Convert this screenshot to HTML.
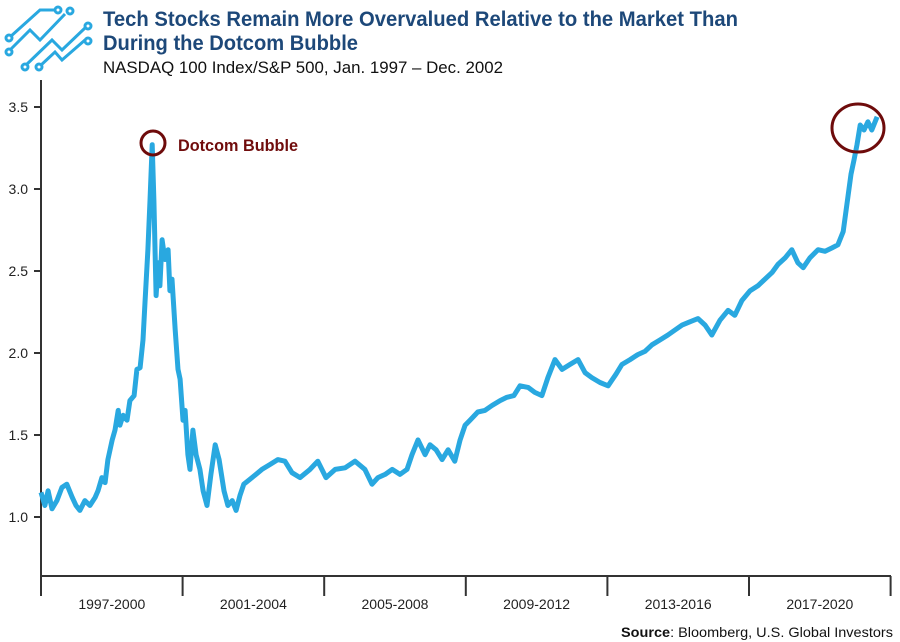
<!DOCTYPE html>
<html><head><meta charset="utf-8"><style>
body{margin:0;background:#fff;}
svg{display:block;font-family:"Liberation Sans",sans-serif;}
</style></head><body>
<svg id="chart" width="900" height="642" viewBox="0 0 900 642">
<g stroke="#29a8e0" stroke-width="3" fill="none">
<path d="M10 37 L40 10 L56 10"/><circle cx="58" cy="10" r="3" fill="#fff"/>
<path d="M10 50 L30 30 L40 40 L65 14"/><circle cx="70" cy="11" r="3" fill="#fff"/>
<circle cx="9" cy="38" r="3" fill="#fff"/><circle cx="9" cy="52" r="3" fill="#fff"/>
<path d="M25 66 L52 40 L62 50 L85 28"/><circle cx="88" cy="26" r="3" fill="#fff"/>
<path d="M40 66 L55 52 L62 60 L85 40"/><circle cx="88" cy="41" r="3" fill="#fff"/>
<circle cx="25" cy="67" r="3" fill="#fff"/><circle cx="39" cy="67" r="3" fill="#fff"/>
</g>
<text x="103" y="26" font-size="21" font-weight="bold" fill="#1d4879" textLength="635" lengthAdjust="spacingAndGlyphs">Tech Stocks Remain More Overvalued Relative to the Market Than</text>
<text x="103" y="50" font-size="21" font-weight="bold" fill="#1d4879" textLength="255" lengthAdjust="spacingAndGlyphs">During the Dotcom Bubble</text>
<text x="103" y="73" font-size="17" fill="#111" textLength="400" lengthAdjust="spacingAndGlyphs">NASDAQ 100 Index/S&amp;P 500, Jan. 1997 – Dec. 2002</text>
<g id="axes" stroke="#333" stroke-width="2"></g>
<g id="labels" font-size="14" fill="#222"></g>
<path id="line" fill="none" stroke="#29a8e0" stroke-width="5" stroke-linejoin="round"/>
<circle cx="153" cy="143" r="12" fill="none" stroke="#6e0b0b" stroke-width="3"/>
<text x="178" y="151" font-size="17" font-weight="bold" fill="#700c0c" textLength="120" lengthAdjust="spacingAndGlyphs">Dotcom Bubble</text>
<ellipse cx="858" cy="128" rx="26" ry="24" fill="none" stroke="#6e0b0b" stroke-width="3"/>
<text x="893" y="637" font-size="14" text-anchor="end" fill="#111" textLength="272" lengthAdjust="spacingAndGlyphs"><tspan font-weight="bold">Source</tspan>: Bloomberg, U.S. Global Investors</text>
</svg>
<script>
const years=[0,.11,.20,.31,.45,.59,.73,.88,.99,1.10,1.24,1.38,1.53,1.61,1.72,1.81,1.89,2.01,2.09,2.18,2.23,2.32,2.43,2.51,2.63,2.71,2.80,2.88,2.94,3.02,3.08,3.14,3.19,3.25,3.31,3.36,3.42,3.50,3.59,3.64,3.70,3.79,3.87,3.93,4.01,4.07,4.15,4.21,4.29,4.38,4.49,4.58,4.69,4.80,4.92,5.03,5.17,5.28,5.40,5.51,5.62,5.73,5.90,6.07,6.24,6.47,6.69,6.89,7.09,7.32,7.60,7.82,8.05,8.31,8.59,8.87,9.15,9.35,9.52,9.72,9.92,10.14,10.34,10.48,10.65,10.85,10.99,11.16,11.33,11.50,11.69,11.84,11.98,12.12,12.34,12.54,12.74,12.97,13.16,13.36,13.53,13.76,13.95,14.15,14.32,14.52,14.72,14.94,15.17,15.37,15.56,15.79,16.02,16.24,16.41,16.64,16.86,17.06,17.26,17.49,17.71,17.91,18.11,18.33,18.56,18.76,18.95,19.18,19.41,19.60,19.80,20.03,20.25,20.45,20.65,20.82,21.02,21.21,21.38,21.53,21.72,21.95,22.15,22.34,22.51,22.66,22.80,22.88,22.97,23.05,23.14,23.25,23.36,23.47,23.62];
const ratios=[1.15,1.07,1.16,1.05,1.10,1.18,1.20,1.12,1.07,1.04,1.10,1.07,1.12,1.16,1.24,1.21,1.35,1.47,1.53,1.65,1.56,1.62,1.59,1.71,1.74,1.90,1.91,2.08,2.32,2.63,2.93,3.27,2.93,2.35,2.55,2.41,2.69,2.57,2.63,2.38,2.45,2.14,1.90,1.84,1.59,1.65,1.38,1.29,1.53,1.38,1.29,1.16,1.07,1.26,1.44,1.35,1.16,1.07,1.10,1.04,1.13,1.20,1.23,1.26,1.29,1.32,1.35,1.34,1.27,1.24,1.29,1.34,1.24,1.29,1.30,1.34,1.29,1.20,1.24,1.26,1.29,1.26,1.29,1.38,1.47,1.38,1.44,1.41,1.35,1.41,1.34,1.47,1.56,1.59,1.64,1.65,1.68,1.71,1.73,1.74,1.80,1.79,1.76,1.74,1.85,1.96,1.90,1.93,1.96,1.88,1.85,1.82,1.80,1.87,1.93,1.96,1.99,2.01,2.05,2.08,2.11,2.14,2.17,2.19,2.21,2.17,2.11,2.20,2.26,2.23,2.32,2.38,2.41,2.45,2.49,2.54,2.58,2.63,2.55,2.52,2.58,2.63,2.62,2.64,2.66,2.74,2.96,3.09,3.18,3.27,3.39,3.36,3.41,3.36,3.44];
const yTicks=[1.0,1.5,2.0,2.5,3.0,3.5];
const xCats=["1997-2000","2001-2004","2005-2008","2009-2012","2013-2016","2017-2020"];
const X=t=>41+t*35.4, Y=v=>517-(v-1)*164;
const NS="http://www.w3.org/2000/svg";
const axes=document.getElementById('axes'), labels=document.getElementById('labels');
function mk(tag,attrs,parent){const e=document.createElementNS(NS,tag);for(const k in attrs)e.setAttribute(k,attrs[k]);parent.appendChild(e);return e;}
let l=mk('line',{x1:41,y1:80,x2:41,y2:577},axes);


l=mk('line',{x1:40,y1:576,x2:891,y2:576},axes);


yTicks.forEach(v=>{
 const t=mk('line',{x1:34,y1:Y(v),x2:41,y2:Y(v)},axes);
 
 
 const tx=mk('text',{x:28,y:Y(v)+5,'text-anchor':'end'},labels);
 tx.textContent=v.toFixed(1);
 
 
});
for(let i=0;i<=xCats.length;i++){
 const x=41+i*4*35.4;
 const t=mk('line',{x1:x,y1:576,x2:x,y2:596},axes);
 
 
 if(i<xCats.length){
  const tx=mk('text',{x:x+2*35.4,y:609,'text-anchor':'middle'},labels);
  tx.textContent=xCats[i];
  
  
 }
}
document.getElementById('line').setAttribute('d',years.map((t,i)=>(i?'L':'M')+X(t).toFixed(1)+' '+Y(ratios[i]).toFixed(1)).join(' '));
</script>
</body></html>
